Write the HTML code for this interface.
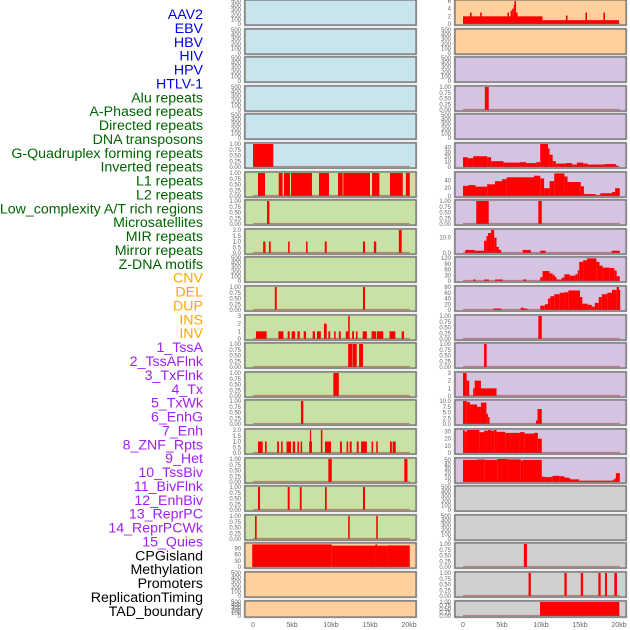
<!DOCTYPE html>
<html><head><meta charset="utf-8"><style>
body{margin:0;background:#fff;}
svg{display:block;font-family:"Liberation Sans",sans-serif;}
</style></head><body>
<svg id="chart" width="630" height="630" viewBox="0 0 630 630" xmlns="http://www.w3.org/2000/svg"></svg>
<script>
const labels=["AAV2","EBV","HBV","HIV","HPV","HTLV-1","Alu repeats","A-Phased repeats","Directed repeats","DNA transposons","G-Quadruplex forming repeats","Inverted repeats","L1 repeats","L2 repeats","Low_complexity A/T rich regions","Microsatellites","MIR repeats","Mirror repeats","Z-DNA motifs","CNV","DEL","DUP","INS","INV","1_TssA","2_TssAFlnk","3_TxFlnk","4_Tx","5_TxWk","6_EnhG","7_Enh","8_ZNF_Rpts","9_Het","10_TssBiv","11_BivFlnk","12_EnhBiv","13_ReprPC","14_ReprPCWk","15_Quies","CPGisland","Methylation","Promoters","ReplicationTiming","TAD_boundary"];
const labelGroups=[6,13,5,15,5];
const groupColors=["#0000ee","#006400","#ffa500","#a020f0","#000000"];
const xTicks=[0,5,10,15,20];
const xTickLabels=["0","5kb","10kb","15kb","20kb"];

const T500=[0,100,200,300,400,500], T1=[0,0.25,0.5,0.75,1], T6=[0,2,4,6], T3=[0,1,2,3], T2=[0,0.5,1,1.5,2], T10=[0,2.5,5,7.5,10];
const TGQ=[0,10,20,30,40], TL1=[0,20,40], TMIR=[0,10], TZ=[0,30,60,90,120], TDEL=[0,20,40,60,80], T15R=[0,10,20,30], T16R=[0,10,20,30,40,50], TCPG=[0,30,60,90];

const b0R=[[0,10.2,2],[10.2,20,1],[0.9,1.1,3],[2.2,2.4,3],[5.7,5.9,3],[6.1,6.3,3.5],[6.3,6.5,4],[6.5,6.7,5],[6.6,6.8,6],[6.8,7.0,3],[13.2,13.4,2.2],[15.7,15.9,3],[18.0,18.2,3]];
const b3R=[[2.8,3.3,1]];
const b5L=[[0,2.6,1]];
const b5R=[[0,0.6,20],[0.6,1.3,18],[1.3,3.1,22],[3.1,3.6,20],[3.6,5.2,12],[5.2,7.3,9],[7.3,8.1,10],[8.1,9.4,8],[9.4,9.9,10],[9.9,10.9,47],[10.9,11.1,38],[11.1,11.5,25],[11.5,11.9,12],[11.9,13.2,7],[13.2,14.0,8],[14.0,14.6,5],[14.6,15.4,9],[15.4,16.0,7],[16.0,18.1,5],[18.1,19.6,6],[19.6,19.9,3]];
const b6L=[[0.64,1.54,1],[3.3,3.8,1],[3.97,4.74,1],[4.87,7.56,1],[8.46,9.74,1],[10.9,11.5,1],[11.58,15.0,1],[15.26,16.2,1],[17.56,19.2,1],[19.6,20.1,1]];
const b6R=[[0,0.7,26],[0.7,1.6,28],[1.6,3.1,24],[3.1,4.1,30],[4.1,5.0,38],[5.0,5.6,43],[5.6,9.1,48],[9.1,9.9,52],[9.9,10.4,45],[10.4,11.1,20],[11.1,11.7,38],[11.7,13.0,58],[13.0,13.4,50],[13.4,15.1,36],[15.1,15.5,25],[15.5,17.0,5],[17.0,17.6,2],[17.6,19.1,7],[19.1,19.5,10],[19.5,20.1,20]];
const b7L=[[1.8,2.1,1]];
const b7R=[[1.7,3.3,1],[9.66,10.1,1]];
const b8L=[[1.3,1.6,1],[2.05,2.27,1],[4.5,4.7,1],[6.8,7.0,1],[9.2,9.45,1],[14.1,14.36,1],[15.5,15.8,1],[18.7,19.06,2]];
const b8R=[[0.3,1.5,2],[1.5,2.7,1.5],[2.7,3.0,8],[3.0,3.2,11],[3.2,3.6,13],[3.6,4.0,15],[4.0,4.3,10],[4.3,4.6,4],[4.6,4.9,2],[7.65,8.7,2],[9.9,10.6,1.5],[19.06,20.1,1.5]];
const b9R=[[1.3,1.6,8],[2.7,3.3,8],[4.1,5.1,8],[7.7,8.1,8],[9.9,10.2,20],[10.2,11.1,52],[11.1,11.5,40],[11.5,11.8,30],[11.8,12.0,20],[12.0,12.65,8],[12.65,13.0,18],[13.0,13.7,35],[13.7,14.4,28],[14.4,14.7,35],[14.7,14.9,55],[14.9,15.4,100],[15.4,15.9,108],[15.9,17.1,118],[17.1,17.5,100],[17.5,17.9,80],[17.9,18.8,70],[18.8,19.4,68],[19.4,19.7,55],[19.7,20.1,25]];
const b10L=[[2.8,3.04,1],[14.1,14.36,1]];
const b10R=[[3.9,4.9,5],[7.4,7.8,8],[7.8,8.25,5],[9.9,10.5,15],[10.5,10.9,20],[10.9,11.2,40],[11.2,11.7,48],[11.7,12.4,55],[12.4,13.0,60],[13.0,13.5,62],[13.5,15.0,68],[15.0,15.3,45],[15.3,16.0,22],[16.0,16.5,18],[16.5,16.9,12],[16.9,17.4,25],[17.4,17.8,45],[17.8,18.5,55],[18.5,19.1,60],[19.1,19.7,70],[19.7,20.0,80],[20.0,20.1,70]];
const b11L=[[0.38,1.75,1],[3.25,3.9,1],[4.45,4.7,1],[4.96,5.4,1],[5.7,6.0,1],[6.5,6.8,1],[7.65,7.95,1],[8.2,8.7,1],[9.1,9.45,2],[9.66,9.9,1],[10.4,10.6,1],[11.0,11.25,1],[11.9,12.2,1],[12.2,12.4,3],[12.7,12.95,1],[13.2,13.4,1],[14.06,14.6,1],[15.2,15.8,1],[15.9,16.7,1],[17.5,18.25,1],[19.06,19.36,1]];
const b11R=[[9.66,10.1,1]];
const b12L=[[12.2,12.7,1],[12.75,13.3,1],[13.6,14.1,1]];
const b12R=[[2.7,3.03,1]];
const b13L=[[10.3,11.0,1]];
const b13R=[[0,0.47,3],[0.47,0.8,2],[1.3,1.5,1],[1.5,2.3,2],[2.3,4.3,1]];
const b14L=[[6.15,6.45,1]];
const b14R=[[0,0.47,10],[0.47,0.9,9.5],[0.9,1.8,8.5],[1.8,2.3,7.5],[2.3,3.0,9.3],[3.0,3.2,4.5],[3.2,3.4,3],[9.35,9.55,1.5],[9.55,10.1,6.5]];
const b15L=[[0.64,1.24,1],[1.54,1.75,1],[3.1,3.33,1],[3.6,3.8,1],[4.3,4.87,1],[5.1,5.4,1],[5.7,5.9,1],[6.1,6.3,1],[7.2,7.56,1],[7.3,7.45,2],[8.7,8.9,2],[9.23,10.0,1],[11.15,11.4,1],[12.0,12.2,1],[12.4,12.65,1],[13.3,13.55,1],[13.85,14.6,1],[15.2,15.4,1],[15.8,16.0,1],[17.56,17.8,1],[17.9,18.3,1]];
const b15R=[[0,0.2,32],[0.2,0.5,30],[0.5,2.1,32],[2.1,2.7,29],[2.7,3.2,31],[3.2,3.6,32],[3.6,4.0,31],[4.0,4.3,32],[4.3,5.4,29.5],[5.4,7.3,28],[7.3,7.9,29],[7.9,9.1,27],[9.1,9.6,28],[9.6,10.1,20]];
const b16L=[[9.66,10.1,1],[19.4,19.8,1]];
const b16R=[[0,1.8,50],[1.8,2.8,51],[2.8,4.4,50],[4.4,5.7,52],[5.7,7.4,51],[7.4,7.7,49],[7.7,10.1,50],[10.1,10.5,12],[10.5,11.3,11],[11.3,11.5,12],[11.5,12.4,14],[12.4,13.0,13],[13.0,13.6,10],[13.6,13.8,8],[13.8,14.9,6],[14.9,17.5,3],[17.5,19.2,3],[19.2,19.4,5],[19.4,19.6,8],[19.6,20.1,20]];
const b17L=[[0.64,0.9,1],[4.45,4.7,1],[6.0,6.24,1],[9.23,9.45,1],[14.1,14.36,1]];
const b18L=[[0.26,0.47,1],[12.2,12.4,1],[15.8,16.0,1]];
const b19L=[[-0.1,10.1,110],[10.1,15.7,104],[15.7,15.9,110],[15.9,17.3,104],[17.3,20.1,105]];
const b19R=[[7.8,8.2,1]];
const b20R=[[8.4,8.7,1],[13.0,13.3,1],[15.1,15.4,1],[17.35,17.65,1],[18.2,18.46,1],[19.4,19.74,1]];
const b21R=[[9.87,20.04,1]];

const panelBars=[null,b0R,null,null,null,null,null,b3R,null,null,b5L,b5R,b6L,b6R,b7L,b7R,b8L,b8R,null,b9R,b10L,b10R,b11L,b11R,b12L,b12R,b13L,b13R,b14L,b14R,b15L,b15R,b16L,b16R,b17L,null,b18L,null,b19L,b19R,null,b20R,null,b21R];
const panelTicks=[T500,T6,T500,T500,T500,T500,T500,T1,T500,T500,T1,TGQ,T1,TL1,T1,T1,T2,TMIR,T500,TZ,T1,TDEL,T3,T1,T1,T1,T1,T3,T1,T10,T2,T15R,T1,T16R,T1,T500,T1,T500,TCPG,T1,T500,T1,T500,T1];
const panelYmax=[500,6,500,500,500,500,500,1,500,500,1,47,1,59,1,1,2,15,500,120,1,80,3,1,1,1,1,3,1,10,2,32,1,52,1,500,1,500,112,1,500,1,500,1];
const bgNames=["blue","orange","blue","orange","blue","purple","blue","purple","blue","purple","blue","purple","green","purple","green","purple","green","purple","green","purple","green","purple","green","purple","green","purple","green","purple","green","purple","green","purple","green","purple","green","gray","green","gray","orange","gray","orange","gray","orange","gray"];
const bgColors={blue:"#c8e4ec",orange:"#ffd09c",purple:"#d5c4e1",green:"#c8e1a4",gray:"#d0d0d0"};

const svg=document.getElementById('chart');
const NS="http://www.w3.org/2000/svg";
function mk(tag,attrs,parent){const e=document.createElementNS(NS,tag);for(const k in attrs)e.setAttribute(k,attrs[k]);(parent||svg).appendChild(e);return e;}
function fmt(t,ticks){const mx=ticks[ticks.length-1];if(mx===1)return t.toFixed(2);if(mx===2||mx===10)return t.toFixed(1);return String(t);}

let gi=0,cnt=0;
labels.forEach((lab,i)=>{
  while(cnt>=labelGroups[gi]){cnt=0;gi++;}
  cnt++;
  const t=mk('text',{x:203,y:14+i*13.88+5,'text-anchor':'end','font-size':14.2,fill:groupColors[gi]});
  
  
  t.textContent=lab;
});

const colX=[245,455];
const PW=171;
const xScale=(c,kb)=>colX[c]+8+kb*7.8;

for(let p=0;p<44;p++){
  const r=Math.floor(p/2),c=p%2;
  const top=r===21?601:Math.round(r*28.6);
  const h=r===21?16:25;
  const x0=colX[c];
  const g=mk('g',{});
  
  
  mk('rect',{x:x0-0.5,y:top-0.5,width:PW+1,height:h+1,fill:'none',stroke:'#bbb','stroke-width':1.5},g);
  const bg=mk('rect',{x:x0,y:top,width:PW,height:h,fill:bgColors[bgNames[p]],stroke:'#666','stroke-width':1.1},g);
  
  
  const ymax=panelYmax[p];
  const yS=v=>top+h-1-(v/ymax)*(h-2);
  const ticks=panelTicks[p];
  ticks.forEach(t=>{
    const tl=mk('text',{x:x0-4,y:yS(t)+2,'text-anchor':'end','font-size':6,fill:'#666'},g);
    
    
    tl.textContent=fmt(t,ticks);
  });
  const bars=panelBars[p];
  if(bars){
    bars.forEach(b=>{
      const xa=xScale(c,b[0]),xb=xScale(c,b[1]);
      const br=mk('rect',{x:xa,y:yS(b[2]),width:Math.max(1.2,xb-xa),height:yS(0)-yS(b[2]),fill:'#ff0000'},g);
      
      
    });
    const bl=mk('line',{x1:xScale(c,0),x2:xScale(c,20.1),y1:yS(0)-0.5,y2:yS(0)-0.5,stroke:'rgba(170,60,60,0.55)','stroke-width':1.2},g);
    
    
  }
}
[0,1].forEach(c=>{
  xTicks.forEach((t,i)=>{
    const tl=mk('text',{x:xScale(c,t),y:627,'text-anchor':'middle','font-size':7,fill:'#666'});
    
    
    tl.textContent=xTickLabels[i];
  });
});
</script>
</body></html>
